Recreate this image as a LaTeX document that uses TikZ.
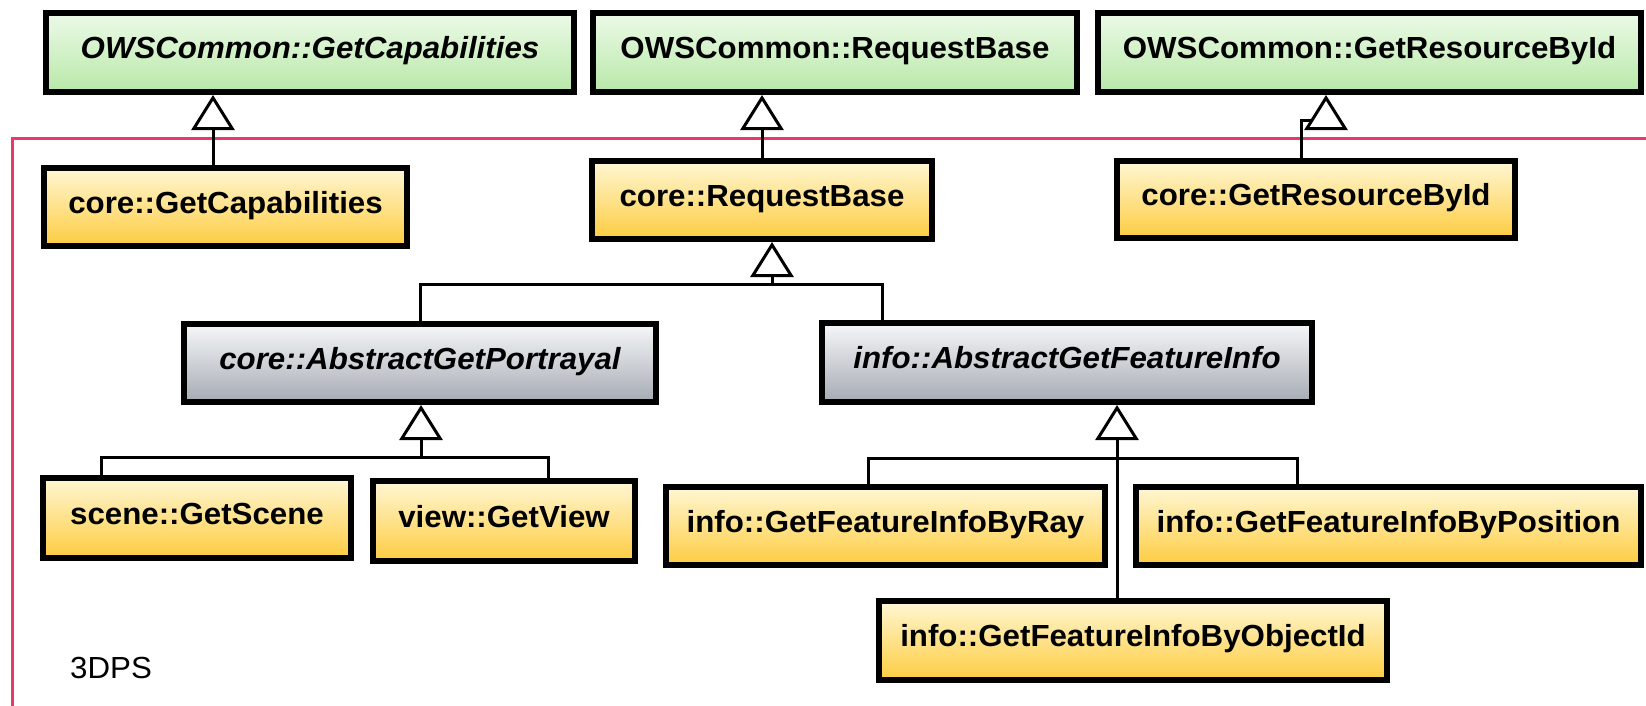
\documentclass[tikz,border=0pt]{standalone}
\usepackage{fontspec}
\setmainfont{Liberation Sans}[FakeStretch=1.025]
\usetikzlibrary{arrows.meta}
\definecolor{frameRed}{RGB}{232,58,106}
\definecolor{yTop}{RGB}{255,247,212}
\definecolor{yBot}{RGB}{253,204,64}
\definecolor{gTop}{RGB}{236,250,232}
\definecolor{gBot}{RGB}{184,232,168}
\definecolor{aTop}{RGB}{246,247,249}
\definecolor{aBot}{RGB}{166,171,179}
\begin{document}
\begin{tikzpicture}[x=1pt,y=-1pt,
  box/.style={draw=black, line width=6pt, outer sep=3pt, inner sep=0pt,
    font=\fontsize{30.5}{36}\selectfont\bfseries, text height=22pt, text depth=10pt, anchor=center},
  ybox/.style={box, top color=yTop, bottom color=yBot},
  gbox/.style={box, top color=gTop, bottom color=gBot},
  abox/.style={box, top color=aTop, bottom color=aBot},
  ital/.style={font=\fontsize{30.5}{36}\selectfont\bfseries\itshape},
  conn/.style={line width=3pt, draw=black},
  gen/.style={conn, -{Triangle[open, length=35pt, width=43pt]}},
  frameline/.style={line width=3pt, draw=frameRed},
]
\useasboundingbox (0,0) rectangle (1646,705);
\fill[white] (0,0) rectangle (1646,705);
\draw[frameline] (12,707) -- (12,138) -- (1648,138);

% top row (green)
\node[gbox, ital, minimum width=528pt, minimum height=79pt] (owsCap) at (310,52.5) {OWSCommon::GetCapabilities};
\node[gbox, minimum width=484pt, minimum height=79pt] (owsReq) at (835,52.5) {OWSCommon::RequestBase};
\node[gbox, minimum width=543pt, minimum height=79pt] (owsRes) at (1369.5,52.5) {OWSCommon::GetResourceById};

% second row
\node[ybox, minimum width=363pt, minimum height=78pt] (coreCap) at (225.5,207) {core::GetCapabilities};
\node[ybox, minimum width=340pt, minimum height=78pt] (coreReq) at (762,200) {core::RequestBase};
\node[ybox, minimum width=398pt, minimum height=77pt] (coreRes) at (1316,199.5) {core::GetResourceById};

% abstract row
\node[abox, ital, minimum width=472pt, minimum height=78pt] (absP) at (420,363) {core::AbstractGetPortrayal};
\node[abox, ital, minimum width=490pt, minimum height=79pt] (absF) at (1067,362.5) {info::AbstractGetFeatureInfo};

% bottom rows
\node[ybox, minimum width=308pt, minimum height=80pt] (scene) at (197,518) {scene::GetScene};
\node[ybox, minimum width=262pt, minimum height=80pt] (view) at (504,521) {view::GetView};
\node[ybox, minimum width=439pt, minimum height=78pt] (ray) at (885.5,526) {info::GetFeatureInfoByRay};
\node[ybox, minimum width=505pt, minimum height=78pt] (pos) at (1388.5,526) {info::GetFeatureInfoByPosition};
\node[ybox, minimum width=508pt, minimum height=79pt] (obj) at (1133,640.5) {info::GetFeatureInfoByObjectId};

\node[anchor=base west, inner sep=0pt, font=\fontsize{30.5}{36}\selectfont] (lbl) at (70,678) {3DPS};

% connectors
\coordinate (c1) at (213,0);
\draw[gen] (coreCap.north -| c1) -- (owsCap.south -| c1);
\draw[gen] (coreReq.north) -- (owsReq.south -| coreReq.north);

\coordinate (r1) at (1301,120);
\coordinate (r2) at (1312,120);
\coordinate (r3) at (1326,130);
\draw[conn] (coreRes.north -| r1) -- (r1) -- (r2);
\draw[gen] (r3) -- (owsRes.south -| r3);

\coordinate (b1) at (772,284);
\coordinate (xF) at (882,0);
\draw[gen] (absP.north) |- (b1) -- (coreReq.south -| b1);
\draw[conn] (absF.north -| xF) |- (b1);

\coordinate (b2) at (421,457);
\coordinate (s1) at (101,0);
\coordinate (v1) at (548,0);
\draw[gen] (scene.north -| s1) |- (b2) -- (absP.south -| b2);
\draw[conn] (view.north -| v1) |- (b2);

\coordinate (b3) at (1117,458);
\coordinate (q1) at (868,458);
\coordinate (q2) at (1297,458);
\draw[gen] (obj.north -| b3) -- (absF.south -| b3);
\draw[conn] (ray.north -| q1) -- (q1) -- (q2) -- (pos.north -| q2);
\end{tikzpicture}
\end{document}
